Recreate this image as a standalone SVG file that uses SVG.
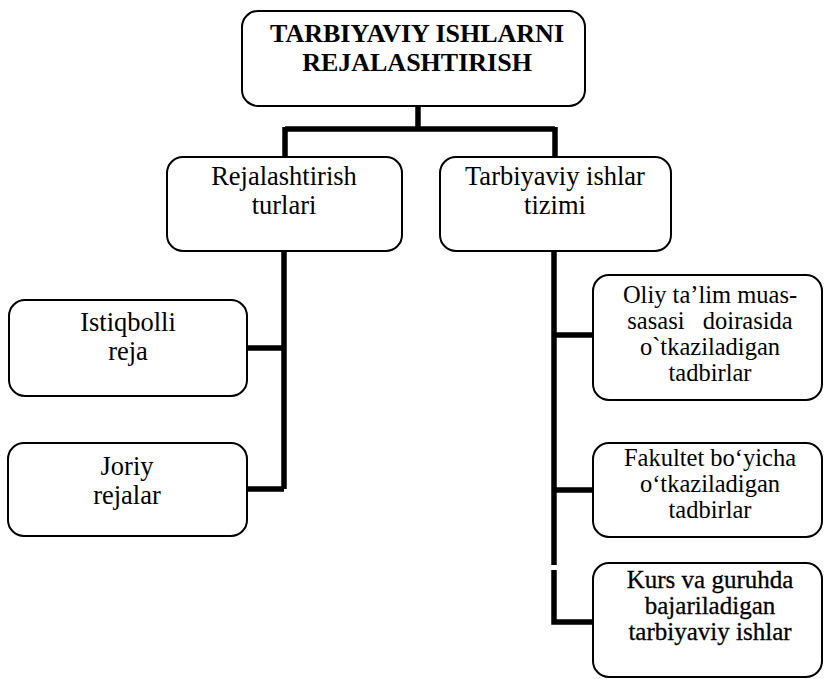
<svg xmlns="http://www.w3.org/2000/svg" width="825" height="679" viewBox="0 0 825 679">
<style>
.box{fill:#fff;stroke:#000;stroke-width:2}
.t{font-family:"Liberation Serif","Times New Roman",serif;fill:#000;text-anchor:middle}
.m{font-size:26.5px}
.s{font-size:24.5px}
.k{font-size:25px;stroke:#000;stroke-width:0.3}
.b{font-size:26px;font-weight:bold}
.c{fill:none;stroke:#000;stroke-width:5.5;stroke-linejoin:miter}
</style>
<rect width="825" height="679" fill="#fff"/>
<g id="connectors">
<path class="c" d="M418 106V129M285 129H555M285 127V157M555 127V157"/>
<path class="c" d="M284 251V489M247 348H284M247 489H284"/>
<path class="c" d="M554 251V565M554 335H593M554 490H593M554 570V622H593"/>
</g>
<g id="root">
<rect class="box" x="242" y="11" width="343" height="95" rx="16"/>
<text class="t b" x="417" y="42">TARBIYAVIY ISHLARNI</text>
<text class="t b" x="417" y="71">REJALASHTIRISH</text>
</g>
<g id="rejalashtirish-turlari">
<rect class="box" x="167" y="157" width="235" height="94" rx="16"/>
<text class="t m" x="284" y="185">Rejalashtirish</text>
<text class="t m" x="284" y="214">turlari</text>
</g>
<g id="tarbiyaviy-ishlar-tizimi">
<rect class="box" x="440" y="157" width="231" height="94" rx="16"/>
<text class="t m" x="555" y="185">Tarbiyaviy ishlar</text>
<text class="t m" x="555" y="214">tizimi</text>
</g>
<g id="istiqbolli-reja">
<rect class="box" x="9" y="300" width="238" height="96" rx="16"/>
<text class="t m" x="128" y="331">Istiqbolli</text>
<text class="t m" x="128" y="360">reja</text>
</g>
<g id="joriy-rejalar">
<rect class="box" x="8" y="443" width="239" height="93" rx="16"/>
<text class="t m" x="127" y="475">Joriy</text>
<text class="t m" x="127" y="504">rejalar</text>
</g>
<g id="oliy">
<rect class="box" x="593" y="275" width="229" height="125" rx="16"/>
<text class="t s" x="710" y="303">Oliy ta’lim muas-</text>
<text class="t s" x="710" y="329" xml:space="preserve">sasasi   doirasida</text>
<text class="t s" x="710" y="355">o`tkaziladigan</text>
<text class="t s" x="710" y="381">tadbirlar</text>
</g>
<g id="fakultet">
<rect class="box" x="593" y="443" width="229" height="94" rx="16"/>
<text class="t s" x="710" y="466">Fakultet bo‘yicha</text>
<text class="t s" x="710" y="492">o‘tkaziladigan</text>
<text class="t s" x="710" y="518">tadbirlar</text>
</g>
<g id="kurs">
<rect class="box" x="593" y="563" width="229" height="114" rx="16"/>
<text class="t k" x="710" y="588">Kurs va guruhda</text>
<text class="t k" x="710" y="614">bajariladigan</text>
<text class="t k" x="710" y="640">tarbiyaviy ishlar</text>
</g>
</svg>
